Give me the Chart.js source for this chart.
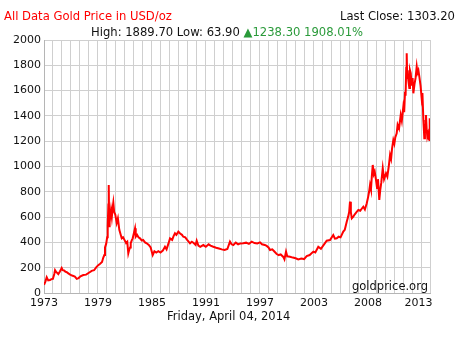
<!DOCTYPE html>
<html>
<head>
<meta charset="utf-8">
<script src="https://cdn.jsdelivr.net/npm/chart.js@4.4.1/dist/chart.umd.min.js"></script>
<style>
    html, body { margin: 0; padding: 0; background: #fff; }
    #wrap { position: relative; width: 474px; height: 340px; font-family: 'DejaVu Sans', Verdana, sans-serif; font-size: 11.6px; }
    #wrap canvas { position: absolute; left: 0; top: 0; }
    .txt { position: absolute; white-space: nowrap; line-height: 14px; }
    #title { left: 4px; top: 9px; color: #f00; }
    #close { right: 19px; top: 9px; color: #111; }
    #stats { left: 91px; top: 25px; color: #111; }
    #stats .up { color: #2a9a3a; }
    #date { left: 167px; top: 309px; color: #111; font-size: 11.5px; }
    #brand { left: 352px; top: 279px; color: #111; font-size: 11.5px; }
</style>
</head>
<body>
<div id="wrap">
    <canvas id="chart" width="474" height="340"></canvas>
    <div class="txt" id="title">All Data Gold Price in USD/oz</div>
    <div class="txt" id="close">Last Close: 1303.20</div>
    <div class="txt" id="stats">High: 1889.70 Low: 63.90 <span class="up">&#9650;1238.30 1908.01%</span></div>
    <div class="txt" id="date">Friday, April 04, 2014</div>
    <div class="txt" id="brand">goldprice.org</div>
</div>
<script>
// price points (x in chart years)
const YEARS = [
    1973.00, 1973.15, 1973.29, 1973.45, 1973.64, 1973.80, 1973.95, 1974.10, 1974.18, 1974.30,
    1974.40, 1974.53, 1974.70, 1974.89, 1975.00, 1975.15, 1975.30, 1975.43, 1975.60, 1975.80,
    1976.00, 1976.30, 1976.50, 1976.70, 1976.90, 1977.20, 1977.50, 1977.80, 1978.10, 1978.35,
    1978.60, 1978.80, 1979.00, 1979.20, 1979.34, 1979.45, 1979.52, 1979.65, 1979.75, 1979.81,
    1979.88, 1979.92, 1979.95, 1979.98, 1980.05, 1980.16, 1980.25, 1980.35, 1980.41, 1980.50,
    1980.62, 1980.77, 1980.90, 1981.05, 1981.20, 1981.31, 1981.45, 1981.60, 1981.77, 1981.90,
    1982.01, 1982.10, 1982.20, 1982.27, 1982.40, 1982.48, 1982.60, 1982.73, 1982.78, 1982.83,
    1982.95, 1983.10, 1983.26, 1983.45, 1983.60, 1983.80, 1983.98, 1984.20, 1984.40, 1984.62,
    1984.80, 1985.00, 1985.22, 1985.45, 1985.70, 1985.93, 1986.10, 1986.30, 1986.47, 1986.70,
    1986.85, 1987.00, 1987.15, 1987.36, 1987.55, 1987.75, 1987.89, 1988.10, 1988.30, 1988.61,
    1988.80, 1989.00, 1989.20, 1989.32, 1989.50, 1989.70, 1990.03, 1990.30, 1990.60, 1990.80,
    1991.10, 1991.40, 1991.70, 1992.00, 1992.30, 1992.60, 1992.88, 1993.05, 1993.24, 1993.50,
    1993.75, 1994.00, 1994.30, 1994.60, 1994.90, 1995.20, 1995.50, 1995.80, 1996.09, 1996.30,
    1996.60, 1996.80, 1997.00, 1997.16, 1997.40, 1997.60, 1997.87, 1998.10, 1998.30, 1998.58,
    1998.70, 1998.87, 1999.00, 1999.30, 1999.60, 1999.90, 2000.18, 2000.50, 2000.80, 2001.08,
    2001.40, 2001.79, 2002.00, 2002.32, 2002.60, 2002.90, 2003.22, 2003.57, 2003.92, 2004.10,
    2004.29, 2004.50, 2004.70, 2004.99, 2005.15, 2005.36, 2005.50, 2005.62, 2005.71, 2005.80,
    2005.90, 2006.06, 2006.20, 2006.40, 2006.60, 2006.80, 2007.00, 2007.13, 2007.30, 2007.50,
    2007.65, 2007.75, 2007.85, 2007.95, 2008.05, 2008.14, 2008.25, 2008.35, 2008.49, 2008.60,
    2008.70, 2008.84, 2008.95, 2009.05, 2009.21, 2009.35, 2009.56, 2009.70, 2009.85, 2009.99,
    2010.10, 2010.20, 2010.34, 2010.45, 2010.55, 2010.70, 2010.80, 2010.95, 2011.13, 2011.25,
    2011.41, 2011.50, 2011.59, 2011.65, 2011.72, 2011.77, 2011.82, 2011.88, 2011.94, 2012.05,
    2012.12, 2012.20, 2012.30, 2012.40, 2012.48, 2012.60, 2012.72, 2012.84, 2012.92, 2013.02,
    2013.12, 2013.25, 2013.37, 2013.45, 2013.55, 2013.60, 2013.65, 2013.72, 2013.78, 2013.83,
    2013.90, 2013.97, 2014.05, 2014.12, 2014.19, 2014.22, 2014.24, 2014.26,
];
const PRICES = [
    65, 90, 125, 100, 103, 110, 112, 150, 180, 165,
    160, 150, 170, 197, 180, 178, 168, 165, 155, 145,
    138, 130, 112, 118, 132, 142, 145, 160, 175, 180,
    205, 220, 232, 245, 280, 300, 360, 390, 440, 530,
    700, 854, 650, 520, 560, 656, 600, 680, 714, 640,
    620, 553, 590, 500, 460, 432, 440, 420, 395, 405,
    314, 340, 360, 393, 420, 432, 470, 511, 470, 445,
    460, 440, 432, 415, 420, 400, 393, 380, 360, 300,
    330, 320, 330, 320, 335, 366, 345, 390, 432, 420,
    450, 472, 460, 485, 470, 460, 445, 440, 420, 393,
    405, 395, 380, 413, 375, 365, 379, 365, 385, 375,
    366, 358, 352, 345, 340, 348, 406, 385, 379, 398,
    385, 392, 393, 398, 388, 406, 395, 392, 400, 385,
    380, 372, 360, 340, 345, 330, 308, 300, 305, 285,
    266, 327, 290, 287, 280, 275, 266, 272, 268, 292,
    300, 327, 320, 366, 350, 380, 413, 419, 458, 430,
    432, 445, 440, 485, 500, 564, 600, 640, 722, 640,
    590, 603, 620, 640, 656, 650, 670, 682, 660, 709,
    760, 800, 854, 820, 930, 1012, 940, 960, 893, 830,
    900, 735, 820, 870, 986, 900, 946, 920, 1000, 1091,
    1060, 1140, 1209, 1180, 1230, 1262, 1330, 1300, 1407, 1360,
    1473, 1430, 1591, 1560, 1780, 1895, 1700, 1760, 1684, 1620,
    1760, 1737, 1640, 1700, 1579, 1650, 1700, 1789, 1740, 1760,
    1710, 1640, 1539, 1580, 1368, 1300, 1223, 1280, 1330, 1407,
    1300, 1236, 1260, 1220, 1210, 1300, 1381, 1303,
];

const X_MIN = 1973;
const X_MAX = 2014.26;
const GRID_STEP = 0.962;   // years between vertical grid lines
const GRID_COUNT = 43;
const X_LABELS = ['1973', '1979', '1985', '1991', '1997', '2003', '2008', '2013'];
const X_LABEL_AT = [0, 6, 12, 18, 24, 30, 36, 41.6];   // in grid steps

const gridColor = '#cfcfcf';
const font = { family: "'DejaVu Sans', Verdana, sans-serif", size: 11 };

const labelFor = (value) => {
    const k = (value - X_MIN) / GRID_STEP;
    const i = X_LABEL_AT.findIndex((p) => Math.abs(p - k) < 0.01);
    return i >= 0 ? X_LABELS[i] : '';
};

const onGrid = (value) => {
    if (Math.abs(value - X_MAX) < 0.001) return true;
    const k = (value - X_MIN) / GRID_STEP;
    return Math.abs(k - Math.round(k)) < 0.01;
};

new Chart(document.getElementById('chart'), {
    type: 'line',
    data: {
        datasets: [{
            data: YEARS.map((y, i) => ({ x: y, y: PRICES[i] })),
            borderColor: '#ff0000',
            borderWidth: 2,
            pointRadius: 0,
            tension: 0,
        }],
    },
    options: {
        responsive: false,
        animation: false,
        events: [],
        layout: { padding: { top: 40, right: 44, bottom: 17, left: 0 } },
        plugins: { legend: { display: false }, tooltip: { enabled: false } },
        scales: {
            x: {
                type: 'linear',
                min: X_MIN,
                max: X_MAX,
                afterBuildTicks: (scale) => {
                    const ticks = [];
                    for (let k = 0; k < GRID_COUNT; k++) {
                        ticks.push({ value: X_MIN + k * GRID_STEP });
                    }
                    ticks.push({ value: X_MIN + X_LABEL_AT[X_LABEL_AT.length - 1] * GRID_STEP });
                    ticks.push({ value: X_MAX });
                    ticks.sort((a, b) => a.value - b.value);
                    scale.ticks = ticks;
                },
                afterFit: (scale) => { scale.height = 30; },
                grid: {
                    color: (ctx) => (ctx.tick && onGrid(ctx.tick.value) ? gridColor : 'rgba(0,0,0,0)'),
                    drawTicks: false,
                },
                border: { color: '#b5b5b5' },
                ticks: {
                    autoSkip: false,
                    maxRotation: 0,
                    padding: 4,
                    color: '#111',
                    font,
                    callback: (value) => labelFor(value),
                },
            },
            y: {
                min: 0,
                max: 2000,
                afterFit: (scale) => { scale.width = 44; },
                grid: { color: gridColor, drawTicks: false },
                border: { color: '#b5b5b5' },
                ticks: {
                    stepSize: 200,
                    padding: 3,
                    color: '#111',
                    font,
                    callback: (value) => String(value),
                },
            },
        },
    },
});
</script>
</body>
</html>
